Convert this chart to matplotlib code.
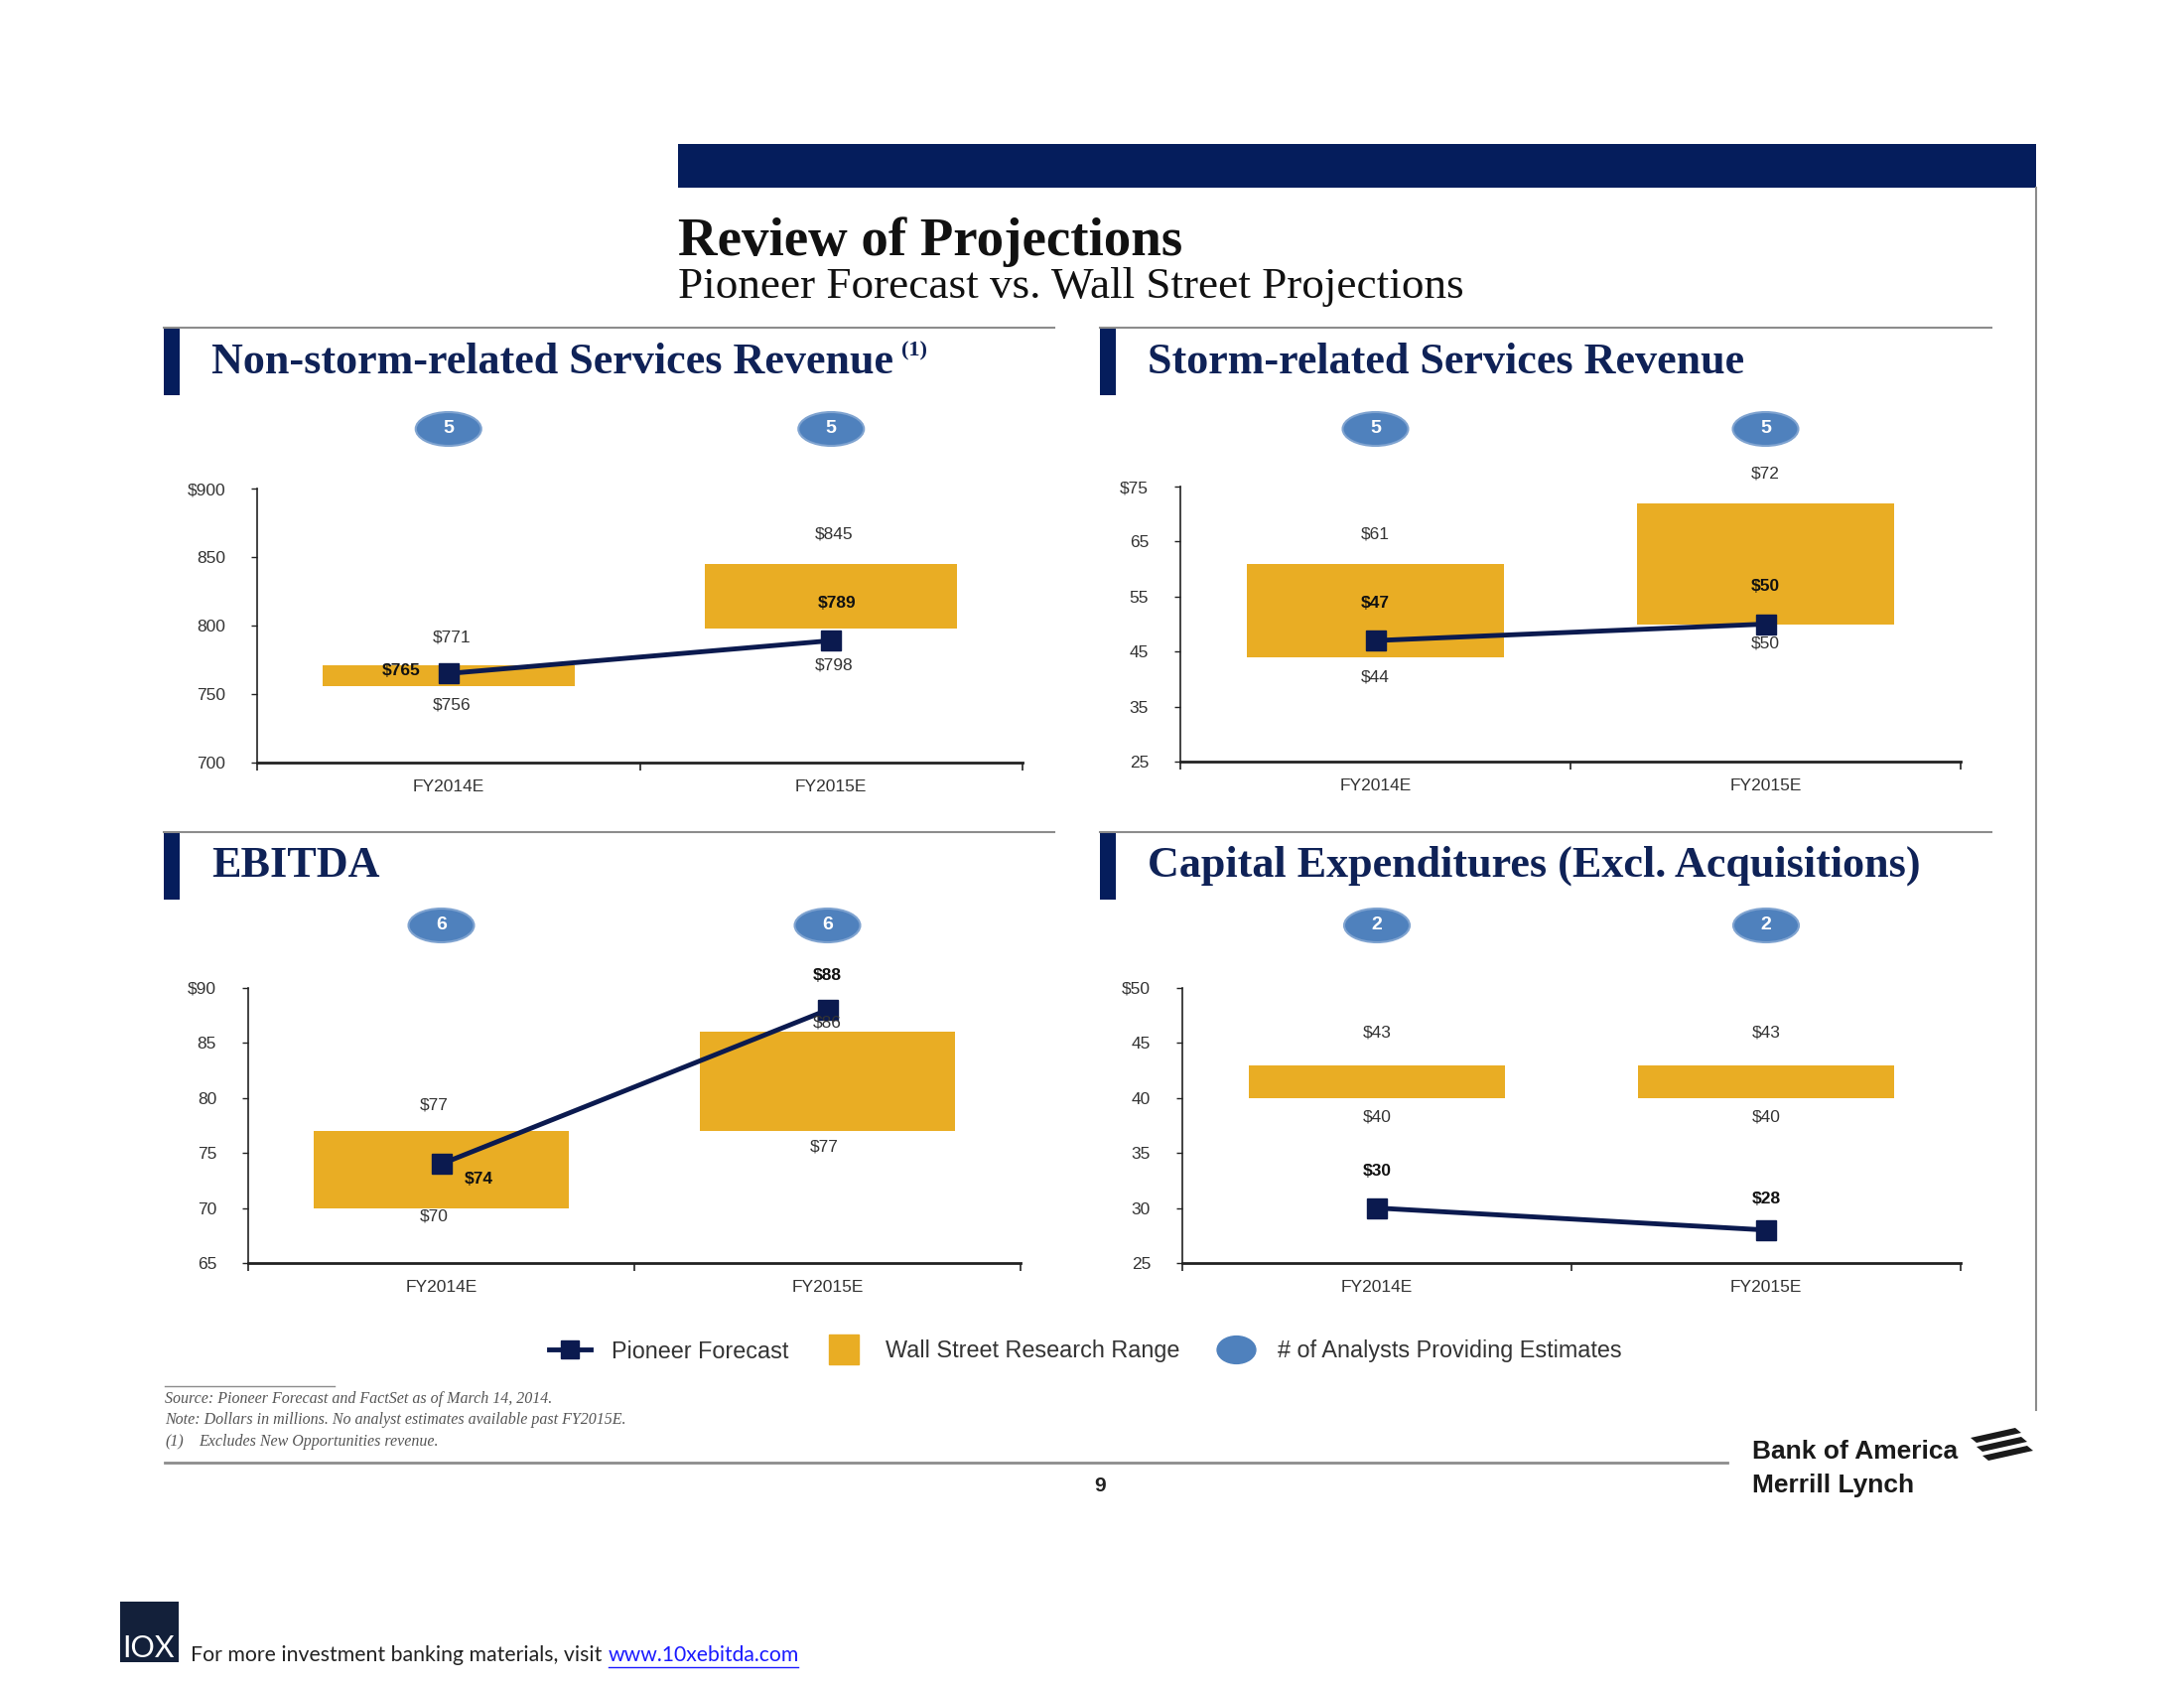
import matplotlib
matplotlib.use('Agg')
import matplotlib.pyplot as plt
import matplotlib.transforms as mtransforms
from matplotlib.patches import Rectangle, Ellipse, Polygon
from matplotlib.lines import Line2D
from matplotlib.path import Path
import numpy as np

W, H = 2200, 1700

years = ['FY2014E', 'FY2015E']

# Non-storm-related services revenue ($mm)
nonstorm_low = [756, 798]
nonstorm_high = [771, 845]
nonstorm_pioneer = [765, 789]
nonstorm_analysts = [5, 5]

# Storm-related services revenue ($mm)
storm_low = [44, 50]
storm_high = [61, 72]
storm_pioneer = [47, 50]
storm_analysts = [5, 5]

# EBITDA ($mm)
ebitda_low = [70, 77]
ebitda_high = [77, 86]
ebitda_pioneer = [74, 88]
ebitda_analysts = [6, 6]

# Capex excl. acquisitions ($mm)
capex_low = [40, 40]
capex_high = [43, 43]
capex_pioneer = [30, 28]
capex_analysts = [2, 2]

NAVY = '#0b1a4f'
BAR_NAVY = '#051d5c'
TITLE_NAVY = '#0f2257'
GOLD = '#e9ad24'
ELL_BLUE = '#4f81bd'
GREY_TXT = '#333333'
RULE = '#8c8c8c'

SANS = ['Liberation Sans', 'DejaVu Sans']
SERIF = ['Liberation Serif', 'DejaVu Serif']


def fx(px):
    return px / W


def fy(py):
    return 1 - py / H


fig = plt.figure(figsize=(22, 17), dpi=100)
fig.patch.set_facecolor('white')

# header bar and frame line
fig.add_artist(Rectangle((fx(683), fy(189)), fx(2051) - fx(683), (189 - 145) / H,
                         transform=fig.transFigure, color=BAR_NAVY, lw=0))
fig.add_artist(Line2D([fx(2051), fx(2051)], [fy(189), fy(1420)], transform=fig.transFigure,
                      color=RULE, lw=1.5))

fig.text(fx(683), fy(257), 'Review of Projections', family=SERIF, fontsize=39.5,
         fontweight='bold', color='#111111', va='baseline', ha='left')
fig.text(fx(683), fy(300), 'Pioneer Forecast vs. Wall Street Projections', family=SERIF,
         fontsize=32.5, color='#111111', va='baseline', ha='left')


def section(x0, x1, y_rule, y_base, title):
    fig.add_artist(Line2D([fx(x0), fx(x1)], [fy(y_rule), fy(y_rule)], transform=fig.transFigure,
                          color=RULE, lw=1.5))
    fig.add_artist(Rectangle((fx(x0), fy(y_rule + 68)), 16 / W, 68 / H,
                             transform=fig.transFigure, color=BAR_NAVY, lw=0))
    return fig.text(fx(x0 + 48), fy(y_base), title, family=SERIF, fontsize=31.8,
                    fontweight='bold', color=TITLE_NAVY, va='baseline', ha='left')


section(165, 1062, 330, 376, 'Non-storm-related Services Revenue')
fig.text(fx(908), fy(358), '(1)', family=SERIF, fontsize=16, fontweight='bold',
         color=TITLE_NAVY, va='baseline', ha='left')
section(1108, 2006, 330, 376, 'Storm-related Services Revenue')
section(165, 1062, 838, 883, 'EBITDA')
section(1108, 2006, 838, 883, 'Capital Expenditures (Excl. Acquisitions)')


def panel(rect, low, high, pioneer, analysts, ticks, offs, ell_y):
    l, t, r, b = rect
    ax = fig.add_axes([fx(l), fy(b), (r - l) / W, (b - t) / H])
    x = np.arange(len(years))
    low = np.array(low)
    high = np.array(high)
    ax.bar(x, high - low, bottom=low, width=0.66, color=GOLD, zorder=1)
    ax.plot(x, pioneer, color=NAVY, lw=3.5, marker='s', ms=15, zorder=3)
    ax.set_xlim(-0.5, 1.5)
    ax.set_ylim(ticks[0], ticks[-1])

    for s in ['top', 'right']:
        ax.spines[s].set_visible(False)
    ax.spines['left'].set_color('#222222')
    ax.spines['left'].set_linewidth(1.2)
    ax.spines['bottom'].set_color('#222222')
    ax.spines['bottom'].set_linewidth(2)

    ax.set_yticks(ticks)
    labels = [str(v) for v in ticks]
    labels[-1] = '$' + labels[-1]
    ax.set_yticklabels(labels, family=SANS, fontsize=12.5, color=GREY_TXT)
    ax.tick_params(axis='y', length=4, width=1, pad=19, color='#222222')

    ax.set_xticks([-0.5, 0.5, 1.5])
    ax.set_xticklabels(['', '', ''])
    ax.tick_params(axis='x', which='major', length=6, width=1.2, color='#222222')
    ax.set_xticks(x, minor=True)
    ax.set_xticklabels(years, minor=True, family=SANS, fontsize=12.5, color=GREY_TXT)
    ax.tick_params(axis='x', which='minor', length=0, pad=12)

    for i in x:
        (hx, hy), (lx, ly), (px, py) = offs[i]
        ax.annotate('$%d' % high[i], (i, high[i]), xytext=(hx, hy), textcoords='offset pixels',
                    ha='center', va='center', family=SANS, fontsize=12.5, color=GREY_TXT,
                    annotation_clip=False)
        ax.annotate('$%d' % low[i], (i, low[i]), xytext=(lx, ly), textcoords='offset pixels',
                    ha='center', va='center', family=SANS, fontsize=12.5, color=GREY_TXT,
                    annotation_clip=False)
        ax.annotate('$%d' % pioneer[i], (i, pioneer[i]), xytext=(px, py),
                    textcoords='offset pixels', ha='center', va='center', family=SANS,
                    fontsize=12.5, fontweight='bold', color='#111111', annotation_clip=False,
                    zorder=4)

    # analyst count bubbles
    hpx = b - t
    trans = mtransforms.blended_transform_factory(ax.transData, ax.transAxes)
    ey = 1 + (t - ell_y) / hpx
    for i in x:
        ax.add_patch(Ellipse((i, ey), 66 / ((r - l) / 2), 34 / hpx, transform=trans,
                             facecolor=ELL_BLUE, edgecolor='#7fa3d0', lw=1.5, clip_on=False))
        ax.text(i, ey, str(analysts[i]), transform=trans, ha='center', va='center',
                family=SANS, fontsize=14, fontweight='bold', color='white')
    return ax


panel((259, 492, 1030, 768), nonstorm_low, nonstorm_high, nonstorm_pioneer, nonstorm_analysts,
      list(range(700, 901, 50)),
      [((3, 28), (3, -19), (-48, 3)), ((3, 30), (3, -37), (6, 38))], 432)
panel((1189, 490, 1975, 767), storm_low, storm_high, storm_pioneer, storm_analysts,
      list(range(25, 76, 10)),
      [((0, 30), (0, -20), (0, 38)), ((0, 30), (0, -20), (0, 38))], 432)
panel((250, 995, 1028, 1272), ebitda_low, ebitda_high, ebitda_pioneer, ebitda_analysts,
      list(range(65, 91, 5)),
      [((-7, 26), (-7, -8), (38, -15)), ((0, 9), (-3, -16), (0, 35))], 932)
panel((1191, 995, 1975, 1272), capex_low, capex_high, capex_pioneer, capex_analysts,
      list(range(25, 51, 5)),
      [((0, 33), (0, -19), (0, 37)), ((0, 33), (0, -19), (0, 31))], 932)

# legend
ell_path = Path.unit_circle().transformed(mtransforms.Affine2D().scale(1.4, 1.0))
handles = [
    Line2D([], [], color=NAVY, lw=3.5, marker='s', ms=13),
    Line2D([], [], ls='none', marker='s', ms=22, color=GOLD),
    Line2D([], [], ls='none', marker=ell_path, ms=28, color=ELL_BLUE),
]
leg = fig.legend(handles, ['Pioneer Forecast', 'Wall Street Research Range',
                           '# of Analysts Providing Estimates'],
                 loc='center', bbox_to_anchor=(fx(1093), fy(1361)), ncol=3, frameon=False,
                 prop={'family': SANS, 'size': 16.8}, handlelength=1.8, handletextpad=0.9,
                 columnspacing=1.5)
for txt in leg.get_texts():
    txt.set_color(GREY_TXT)

# footnotes
fig.add_artist(Line2D([fx(166), fx(337)], [fy(1396), fy(1396)], transform=fig.transFigure,
                      color=RULE, lw=1))
notes = ['Source: Pioneer Forecast and FactSet as of March 14, 2014.',
         'Note: Dollars in millions. No analyst estimates available past FY2015E.']
for k, n in enumerate(notes):
    fig.text(fx(166), fy(1409 + 21 * k), n, family=SERIF, style='italic', fontsize=11.5,
             color='#555555', va='center', ha='left')
fig.text(fx(166), fy(1452), '(1)', family=SERIF, style='italic', fontsize=11.5,
         color='#555555', va='center', ha='left')
fig.text(fx(200), fy(1452), 'Excludes New Opportunities revenue.', family=SERIF,
         style='italic', fontsize=11.5, color='#555555', va='center', ha='left')

fig.add_artist(Line2D([fx(166), fx(1740)], [fy(1473), fy(1473)], transform=fig.transFigure,
                      color=RULE, lw=2))
fig.text(fx(1108), fy(1496), '9', family=SANS, fontsize=15, fontweight='bold',
         color='#222222', ha='center', va='center')

# BofA Merrill Lynch logo
LOGO = ['Liberation Sans Narrow', 'Liberation Sans', 'DejaVu Sans']
fig.text(fx(1765), fy(1462), 'Bank of America', family=LOGO, fontsize=19, fontweight='bold',
         color='#1a1a1a', ha='left', va='center')
fig.text(fx(1765), fy(1496), 'Merrill Lynch', family=LOGO, fontsize=19, fontweight='bold',
         color='#1a1a1a', ha='left', va='center')
for k in range(3):
    dy = 9 * k
    fig.add_artist(Polygon([(fx(1985 + 6 * k), fy(1448 + dy)), (fx(2030 + 6 * k), fy(1438 + dy)),
                            (fx(2036 + 6 * k), fy(1443 + dy)), (fx(1991 + 6 * k), fy(1453 + dy))],
                           closed=True, transform=fig.transFigure, color='#1a1a1a', lw=0))

# 10X footer
fig.add_artist(Rectangle((fx(121), fy(1674)), 59 / W, 61 / H, transform=fig.transFigure,
                         color='#13203a', lw=0))
fig.text(fx(150), fy(1660), 'IOX', family=['Lato', 'DejaVu Sans'], fontsize=22,
         color='white', ha='center', va='center')
fig.text(fx(192), fy(1667), 'For more investment banking materials, visit',
         family=['Lato', 'DejaVu Sans'], fontsize=15.3, color='#222222', ha='left', va='center')
fig.text(fx(613), fy(1667), 'www.10xebitda.com', family=['Lato', 'DejaVu Sans'], fontsize=15.2,
         color='#1a1aff', ha='left', va='center')
fig.add_artist(Line2D([fx(613), fx(804)], [fy(1679), fy(1679)], transform=fig.transFigure,
                      color='#1a1aff', lw=1))

fig.savefig('out.png', dpi=100, facecolor='white')
